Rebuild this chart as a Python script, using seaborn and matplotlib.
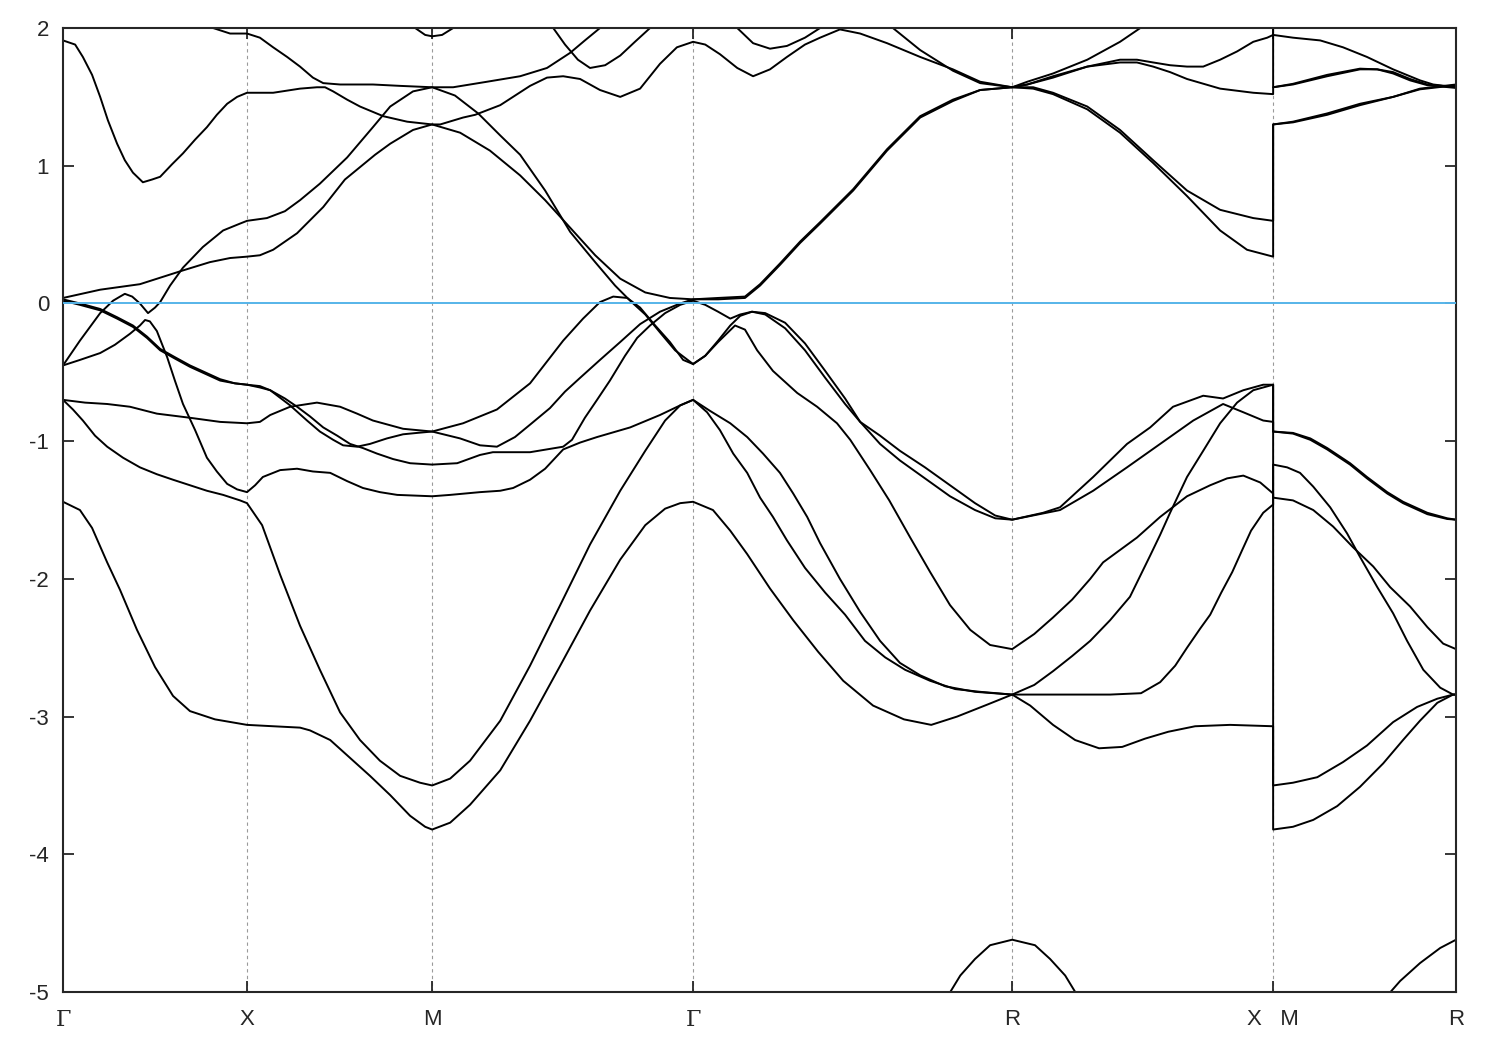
import numpy as np
import pandas as pd
import matplotlib
matplotlib.use("Agg")
import matplotlib.pyplot as plt
import seaborn as sns

# k-path: high-symmetry points (X and M share one position, the path is broken there)
kpath_labels = ['Γ', 'X', 'M', 'Γ', 'R', 'X   M', 'R']
kpath_pos = [0.0, 0.5, 1.003, 1.712, 2.579, 3.288, 3.785]
energy_ticks = [-5, -4, -3, -2, -1, 0, 1, 2]

# bands as (k, E) pairs, E in eV relative to E_F
band_1 = [(0, -1.44), (0.046, -1.50), (0.079, -1.63), (0.120, -1.88), (0.155, -2.08), (0.201, -2.37),
          (0.250, -2.64), (0.299, -2.85), (0.345, -2.96), (0.413, -3.02), (0.5, -3.06),
          (0.571, -3.07), (0.644, -3.08), (0.671, -3.10), (0.726, -3.17), (0.780, -3.30), (0.834, -3.43),
          (0.889, -3.57), (0.943, -3.72), (0.984, -3.80), (1.003, -3.82),
          (1.052, -3.77), (1.106, -3.64), (1.188, -3.39), (1.269, -3.03), (1.351, -2.63), (1.432, -2.23),
          (1.514, -1.86), (1.582, -1.61), (1.636, -1.49), (1.677, -1.45), (1.712, -1.44),
          (1.766, -1.50), (1.813, -1.65), (1.859, -1.82), (1.921, -2.07), (1.984, -2.30), (2.052, -2.53),
          (2.120, -2.74), (2.201, -2.92), (2.285, -3.02), (2.359, -3.06), (2.429, -3.00), (2.514, -2.91),
          (2.579, -2.84),
          (2.639, -2.77), (2.690, -2.67), (2.742, -2.56), (2.791, -2.45), (2.845, -2.30), (2.899, -2.13),
          (2.954, -1.83), (2.981, -1.68), (3.008, -1.52), (3.054, -1.26), (3.098, -1.07), (3.144, -0.87),
          (3.190, -0.72), (3.234, -0.63), (3.288, -0.59),
          (3.288, -0.93), (3.342, -0.94), (3.389, -0.98), (3.435, -1.05), (3.497, -1.16), (3.543, -1.26),
          (3.598, -1.37), (3.641, -1.44), (3.707, -1.52), (3.761, -1.56), (3.785, -1.57)]

band_2 = [(0, -0.70), (0.027, -0.77), (0.054, -0.85), (0.087, -0.96), (0.120, -1.04), (0.163, -1.12),
          (0.209, -1.19), (0.255, -1.24), (0.299, -1.28), (0.345, -1.32), (0.391, -1.36), (0.435, -1.39),
          (0.481, -1.43), (0.5, -1.45),
          (0.541, -1.61), (0.590, -1.97), (0.644, -2.34), (0.698, -2.66), (0.753, -2.97), (0.807, -3.17),
          (0.861, -3.32), (0.916, -3.43), (0.970, -3.48), (1.003, -3.50),
          (1.052, -3.45), (1.106, -3.32), (1.188, -3.03), (1.269, -2.63), (1.351, -2.19), (1.432, -1.75),
          (1.514, -1.36), (1.582, -1.07), (1.636, -0.85), (1.677, -0.74), (1.712, -0.70),
          (1.750, -0.79), (1.785, -0.92), (1.821, -1.09), (1.859, -1.23), (1.894, -1.41), (1.929, -1.55),
          (1.967, -1.72), (2.016, -1.92), (2.071, -2.10), (2.125, -2.26), (2.179, -2.45), (2.234, -2.57),
          (2.288, -2.66), (2.356, -2.74), (2.424, -2.80), (2.492, -2.82), (2.579, -2.84),
          (2.628, -2.92), (2.690, -3.06), (2.750, -3.17), (2.815, -3.23), (2.878, -3.22), (2.940, -3.16),
          (3.003, -3.11), (3.076, -3.07), (3.171, -3.06), (3.288, -3.07),
          (3.288, -3.82), (3.342, -3.80), (3.397, -3.75), (3.462, -3.65), (3.524, -3.51), (3.587, -3.34),
          (3.641, -3.17), (3.687, -3.03), (3.734, -2.90), (3.777, -2.84), (3.785, -2.84)]

band_3 = [(0, -0.45), (0.046, -0.41), (0.101, -0.36), (0.141, -0.30), (0.182, -0.22), (0.209, -0.16),
          (0.223, -0.12), (0.236, -0.13), (0.255, -0.20), (0.283, -0.39), (0.304, -0.56), (0.326, -0.73),
          (0.359, -0.92), (0.391, -1.12), (0.418, -1.22), (0.446, -1.31), (0.473, -1.35), (0.5, -1.37),
          (0.522, -1.32), (0.543, -1.26), (0.590, -1.21), (0.636, -1.20), (0.679, -1.22), (0.726, -1.23),
          (0.772, -1.29), (0.815, -1.34), (0.861, -1.37), (0.908, -1.39), (1.003, -1.40),
          (1.052, -1.39), (1.133, -1.37), (1.188, -1.36), (1.223, -1.34), (1.269, -1.28), (1.310, -1.20),
          (1.359, -1.06), (1.405, -1.01), (1.451, -0.97), (1.541, -0.90), (1.622, -0.81), (1.677, -0.74),
          (1.712, -0.70),
          (1.758, -0.78), (1.813, -0.87), (1.859, -0.97), (1.902, -1.09), (1.948, -1.23), (1.984, -1.38),
          (2.022, -1.55), (2.057, -1.74), (2.111, -2.00), (2.166, -2.24), (2.220, -2.45), (2.274, -2.61),
          (2.329, -2.70), (2.397, -2.78), (2.478, -2.82), (2.579, -2.84),
          (2.655, -2.84), (2.742, -2.84), (2.845, -2.84), (2.929, -2.83), (2.981, -2.75), (3.022, -2.63),
          (3.054, -2.50), (3.090, -2.36), (3.117, -2.26), (3.147, -2.10), (3.177, -1.95), (3.204, -1.79),
          (3.228, -1.65), (3.261, -1.52), (3.288, -1.46),
          (3.288, -1.17), (3.326, -1.19), (3.361, -1.23), (3.397, -1.33), (3.443, -1.48), (3.489, -1.67),
          (3.524, -1.84), (3.571, -2.06), (3.614, -2.25), (3.652, -2.45), (3.696, -2.66), (3.742, -2.79),
          (3.777, -2.84), (3.785, -2.84)]

band_4 = [(0, -0.70), (0.060, -0.72), (0.120, -0.73), (0.182, -0.75), (0.255, -0.80), (0.345, -0.83),
          (0.427, -0.86), (0.5, -0.87),
          (0.535, -0.86), (0.563, -0.81), (0.617, -0.75), (0.690, -0.72), (0.753, -0.75), (0.799, -0.80),
          (0.842, -0.85), (0.924, -0.91), (1.003, -0.93),
          (1.087, -0.87), (1.179, -0.77), (1.269, -0.58), (1.359, -0.27), (1.413, -0.11), (1.459, 0.01),
          (1.495, 0.05), (1.533, 0.04), (1.568, -0.03), (1.609, -0.16), (1.649, -0.28), (1.685, -0.41),
          (1.712, -0.44),
          (1.745, -0.38), (1.780, -0.28), (1.826, -0.16), (1.853, -0.19), (1.886, -0.34), (1.929, -0.49),
          (1.995, -0.65), (2.049, -0.75), (2.103, -0.87), (2.139, -0.99), (2.193, -1.21), (2.245, -1.43),
          (2.302, -1.70), (2.356, -1.95), (2.410, -2.19), (2.465, -2.37), (2.519, -2.48), (2.579, -2.51),
          (2.639, -2.40), (2.690, -2.28), (2.742, -2.15), (2.791, -2.00), (2.826, -1.88), (2.872, -1.79),
          (2.918, -1.70), (2.981, -1.55), (3.054, -1.40), (3.117, -1.32), (3.163, -1.27), (3.207, -1.25),
          (3.253, -1.30), (3.288, -1.38),
          (3.288, -3.50), (3.342, -3.48), (3.408, -3.44), (3.478, -3.33), (3.543, -3.21), (3.614, -3.04),
          (3.679, -2.93), (3.734, -2.87), (3.777, -2.84), (3.785, -2.84)]

band_5 = [(0, 0.02), (0.046, -0.01), (0.101, -0.05), (0.147, -0.11), (0.190, -0.17), (0.228, -0.25),
          (0.264, -0.34), (0.304, -0.40), (0.345, -0.46), (0.386, -0.51), (0.427, -0.56), (0.467, -0.58),
          (0.5, -0.59),
          (0.535, -0.61), (0.563, -0.63), (0.603, -0.69), (0.636, -0.75), (0.671, -0.82), (0.707, -0.90),
          (0.745, -0.96), (0.780, -1.02), (0.815, -1.05), (0.853, -1.09), (0.897, -1.13), (0.943, -1.16),
          (1.003, -1.17),
          (1.071, -1.16), (1.133, -1.10), (1.168, -1.08), (1.269, -1.08), (1.359, -1.04), (1.383, -0.99),
          (1.418, -0.83), (1.451, -0.70), (1.486, -0.56), (1.527, -0.38), (1.560, -0.25), (1.595, -0.16),
          (1.636, -0.07), (1.677, -0.01), (1.712, 0.02),
          (1.745, -0.01), (1.780, -0.06), (1.813, -0.11), (1.840, -0.08), (1.872, -0.06), (1.908, -0.07),
          (1.962, -0.14), (2.016, -0.29), (2.071, -0.49), (2.125, -0.69), (2.166, -0.86), (2.220, -1.02),
          (2.274, -1.14), (2.342, -1.27), (2.410, -1.40), (2.478, -1.50), (2.533, -1.56), (2.579, -1.57),
          (2.709, -1.50), (2.799, -1.36), (2.891, -1.19), (2.981, -1.02), (3.071, -0.85), (3.152, -0.73),
          (3.207, -0.79), (3.261, -0.85), (3.288, -0.86),
          (3.288, -1.41), (3.342, -1.43), (3.397, -1.50), (3.451, -1.62), (3.505, -1.77), (3.560, -1.91),
          (3.606, -2.06), (3.660, -2.20), (3.707, -2.35), (3.750, -2.47), (3.785, -2.51)]

band_6 = [(0, 0.03), (0.046, 0.0), (0.101, -0.04), (0.147, -0.10), (0.190, -0.16), (0.228, -0.24),
          (0.264, -0.33), (0.304, -0.39), (0.345, -0.45), (0.386, -0.50), (0.427, -0.55), (0.467, -0.58),
          (0.5, -0.59),
          (0.535, -0.60), (0.563, -0.63), (0.617, -0.74), (0.663, -0.85), (0.698, -0.93), (0.734, -0.99),
          (0.761, -1.03), (0.799, -1.04), (0.834, -1.02), (0.880, -0.98), (0.924, -0.95), (0.962, -0.94),
          (1.003, -0.93),
          (1.079, -0.98), (1.133, -1.03), (1.179, -1.04), (1.228, -0.97), (1.269, -0.88), (1.323, -0.76),
          (1.364, -0.64), (1.405, -0.54), (1.459, -0.41), (1.514, -0.28), (1.568, -0.15), (1.622, -0.06),
          (1.677, 0.0), (1.712, 0.03),
          (1.780, 0.03), (1.853, 0.04), (1.894, 0.13), (1.948, 0.28), (2.003, 0.44), (2.057, 0.58),
          (2.147, 0.82), (2.239, 1.11), (2.329, 1.35), (2.418, 1.47), (2.492, 1.55), (2.579, 1.57),
          (2.636, 1.57), (2.690, 1.53), (2.783, 1.43), (2.872, 1.26), (2.962, 1.04), (3.054, 0.82),
          (3.144, 0.68), (3.234, 0.62), (3.288, 0.60),
          (3.288, 1.30), (3.342, 1.32), (3.435, 1.38), (3.524, 1.45), (3.614, 1.50), (3.687, 1.56),
          (3.785, 1.59)]

band_7 = [(0, -0.45), (0.046, -0.27), (0.101, -0.07), (0.136, 0.02), (0.155, 0.05), (0.168, 0.07),
          (0.188, 0.05), (0.209, 0.0), (0.231, -0.07), (0.250, -0.03), (0.264, 0.01), (0.291, 0.13),
          (0.326, 0.26), (0.380, 0.41), (0.435, 0.53), (0.481, 0.58), (0.5, 0.60),
          (0.554, 0.62), (0.603, 0.67), (0.644, 0.75), (0.698, 0.87), (0.772, 1.06), (0.842, 1.28),
          (0.889, 1.43), (0.951, 1.54), (1.003, 1.57),
          (1.065, 1.51), (1.128, 1.38), (1.188, 1.22), (1.242, 1.08), (1.310, 0.82), (1.378, 0.52),
          (1.446, 0.30), (1.500, 0.13), (1.541, 0.02), (1.582, -0.08), (1.622, -0.21), (1.663, -0.34),
          (1.712, -0.44),
          (1.745, -0.38), (1.780, -0.27), (1.813, -0.16), (1.840, -0.09), (1.872, -0.06), (1.908, -0.08),
          (1.962, -0.18), (2.016, -0.34), (2.071, -0.54), (2.125, -0.73), (2.166, -0.86), (2.220, -0.96),
          (2.274, -1.07), (2.342, -1.19), (2.410, -1.32), (2.478, -1.45), (2.533, -1.54), (2.579, -1.57),
          (2.663, -1.52), (2.709, -1.48), (2.799, -1.26), (2.891, -1.02), (2.954, -0.90), (3.016, -0.75),
          (3.098, -0.67), (3.152, -0.69), (3.207, -0.63), (3.261, -0.59), (3.288, -0.59),
          (3.288, -0.93), (3.342, -0.945), (3.389, -0.99), (3.435, -1.06), (3.497, -1.17), (3.543, -1.27),
          (3.598, -1.38), (3.641, -1.45), (3.707, -1.53), (3.761, -1.565), (3.785, -1.57)]

band_8 = [(0, 0.04), (0.101, 0.10), (0.209, 0.14), (0.326, 0.24), (0.399, 0.30), (0.454, 0.33), (0.5, 0.34),
          (0.535, 0.35), (0.571, 0.39), (0.636, 0.51), (0.707, 0.70), (0.766, 0.90), (0.807, 0.99),
          (0.848, 1.08), (0.889, 1.16), (0.951, 1.26), (1.003, 1.30),
          (1.079, 1.24), (1.160, 1.11), (1.242, 0.93), (1.310, 0.75), (1.378, 0.55), (1.446, 0.35),
          (1.514, 0.18), (1.582, 0.08), (1.649, 0.04), (1.712, 0.03),
          (1.780, 0.04), (1.853, 0.05), (1.894, 0.14), (1.948, 0.29), (2.003, 0.45), (2.057, 0.59),
          (2.147, 0.83), (2.239, 1.12), (2.329, 1.36), (2.418, 1.48), (2.492, 1.55), (2.579, 1.57),
          (2.636, 1.56), (2.690, 1.52), (2.783, 1.41), (2.872, 1.24), (2.962, 1.02), (3.054, 0.78),
          (3.144, 0.53), (3.217, 0.39), (3.288, 0.34),
          (3.288, 1.30), (3.342, 1.315), (3.435, 1.37), (3.524, 1.44), (3.614, 1.50), (3.687, 1.555),
          (3.785, 1.585)]

band_9 = [(0, 1.91), (0.033, 1.88), (0.054, 1.79), (0.079, 1.66), (0.101, 1.50), (0.122, 1.33),
          (0.147, 1.16), (0.168, 1.04), (0.190, 0.95), (0.217, 0.88), (0.242, 0.90), (0.264, 0.92),
          (0.296, 1.01), (0.326, 1.09), (0.359, 1.19), (0.391, 1.28), (0.418, 1.37), (0.446, 1.45),
          (0.473, 1.50), (0.5, 1.53),
          (0.571, 1.53), (0.644, 1.56), (0.690, 1.57), (0.712, 1.57), (0.734, 1.54), (0.772, 1.48),
          (0.807, 1.43), (0.870, 1.36), (0.935, 1.32), (1.003, 1.30),
          (1.025, 1.30), (1.087, 1.35), (1.120, 1.37), (1.188, 1.44), (1.269, 1.58), (1.315, 1.64),
          (1.359, 1.65), (1.405, 1.63), (1.459, 1.55), (1.514, 1.50), (1.568, 1.56), (1.622, 1.74),
          (1.668, 1.86), (1.712, 1.90),
          (1.745, 1.88), (1.785, 1.81), (1.832, 1.71), (1.875, 1.65), (1.921, 1.70), (1.967, 1.79),
          (2.016, 1.88), (2.057, 1.93), (2.111, 1.99), (2.166, 1.96), (2.239, 1.89), (2.329, 1.79),
          (2.418, 1.70), (2.492, 1.61), (2.579, 1.57),
          (2.620, 1.59), (2.690, 1.65), (2.783, 1.72), (2.872, 1.75), (2.918, 1.75), (2.962, 1.72),
          (3.008, 1.68), (3.054, 1.63), (3.144, 1.56), (3.234, 1.53), (3.288, 1.52),
          (3.288, 1.57), (3.342, 1.59), (3.435, 1.65), (3.524, 1.70), (3.571, 1.70), (3.614, 1.68),
          (3.660, 1.63), (3.707, 1.59), (3.785, 1.57)]

band_10 = [(0.350, 2.10), (0.408, 2.0), (0.454, 1.96), (0.5, 1.96),
           (0.535, 1.93), (0.571, 1.86), (0.609, 1.79), (0.644, 1.72), (0.679, 1.64), (0.707, 1.60),
           (0.753, 1.59), (0.842, 1.59), (0.916, 1.58), (1.003, 1.57),
           (1.060, 1.57), (1.152, 1.61), (1.242, 1.65), (1.315, 1.71), (1.378, 1.82), (1.418, 1.91),
           (1.459, 2.0), (1.500, 2.09)]

band_11 = [(0.916, 2.10), (0.957, 2.0), (0.984, 1.95), (1.003, 1.94), (1.030, 1.95), (1.060, 2.0),
           (1.106, 2.10)]

band_12 = [(1.296, 2.13), (1.332, 2.0), (1.364, 1.88), (1.399, 1.77), (1.432, 1.71), (1.473, 1.73),
           (1.514, 1.80), (1.554, 1.90), (1.595, 2.0), (1.636, 2.13)]

band_13 = [(1.785, 2.13), (1.832, 2.0), (1.875, 1.89), (1.921, 1.85), (1.967, 1.87), (2.016, 1.93),
           (2.057, 2.0), (2.139, 2.15), (2.207, 2.15), (2.255, 2.0), (2.329, 1.84), (2.418, 1.69),
           (2.492, 1.60), (2.579, 1.57),
           (2.620, 1.59), (2.690, 1.64), (2.783, 1.72), (2.872, 1.77), (2.918, 1.77), (2.962, 1.75),
           (3.008, 1.73), (3.054, 1.72), (3.098, 1.72), (3.144, 1.77), (3.190, 1.83), (3.234, 1.90),
           (3.272, 1.93), (3.288, 1.95),
           (3.288, 1.57), (3.342, 1.595), (3.435, 1.66), (3.524, 1.705), (3.571, 1.70), (3.614, 1.67),
           (3.660, 1.62), (3.707, 1.585), (3.785, 1.565)]

band_14 = [(2.579, 1.57), (2.620, 1.61), (2.690, 1.67), (2.783, 1.77), (2.872, 1.90), (2.927, 2.0),
           (2.980, 2.10), (3.288, 2.30),
           (3.288, 1.95), (3.342, 1.93), (3.416, 1.91), (3.478, 1.86), (3.543, 1.79), (3.614, 1.70),
           (3.687, 1.62), (3.723, 1.59), (3.785, 1.57)]

band_15 = [(2.397, -5.06), (2.438, -4.88), (2.478, -4.76), (2.519, -4.66), (2.579, -4.62), (2.641, -4.66),
           (2.682, -4.76), (2.723, -4.88), (2.764, -5.06)]

band_16 = [(3.587, -5.06), (3.633, -4.92), (3.687, -4.79), (3.742, -4.68), (3.785, -4.62)]

bands = [band_1, band_2, band_3, band_4, band_5, band_6, band_7, band_8,
         band_9, band_10, band_11, band_12, band_13, band_14, band_15, band_16]

rows = []
for i, b in enumerate(bands):
    for k, e in b:
        rows.append((i, k, e))
df = pd.DataFrame(rows, columns=['band', 'k', 'E'])

sns.set_style('ticks')
plt.rcParams['font.family'] = ['Liberation Sans', 'DejaVu Sans']
plt.rcParams['axes.unicode_minus'] = False

fig, ax = plt.subplots(figsize=(15, 10.5), dpi=100)
fig.subplots_adjust(left=0.042, right=0.9707, bottom=0.0552, top=0.9733)

for x in kpath_pos[1:-1]:
    ax.axvline(x, color='#9a9a9a', lw=0.8, ls=(0, (3, 3)), zorder=0)

sns.lineplot(data=df, x='k', y='E', units='band', estimator=None, sort=False,
             color='black', lw=1.4, ax=ax, legend=False)

ax.axhline(0, color='#56b4e9', lw=1.4, zorder=3)

ax.set_xlim(kpath_pos[0], kpath_pos[-1])
ax.set_ylim(-5, 2)
ax.set_xticks(kpath_pos)
ax.set_xticklabels(kpath_labels)
ax.set_yticks(energy_ticks)
ax.set_yticklabels([str(v) for v in energy_ticks])
ax.set_xlabel('')
ax.set_ylabel('')
ax.tick_params(direction='in', length=8, width=1.3, top=True, right=True, labelsize=16)
ax.tick_params(axis='y', pad=10)
ax.tick_params(axis='x', pad=12)
for lbl in ax.get_xticklabels():
    if lbl.get_text() == 'Γ':
        lbl.set_fontfamily(['DejaVu Serif'])
for s in ax.spines.values():
    s.set_linewidth(1.5)

fig.savefig('out.png', dpi=100)
